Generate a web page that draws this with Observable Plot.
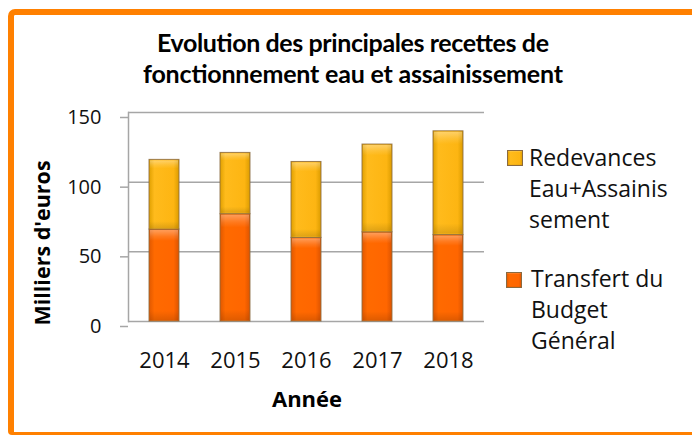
<!DOCTYPE html>
<html>
<head>
<meta charset="utf-8">
<script src="https://cdn.jsdelivr.net/npm/d3@7"></script>
<script src="https://cdn.jsdelivr.net/npm/@observablehq/plot@0.6"></script>
<style>
  html, body { margin: 0; padding: 0; background: #ffffff; overflow: hidden; }
  #wrap { position: relative; width: 692px; height: 436px; overflow: hidden; background: #ffffff; }
  #border { position: absolute; left: 8px; top: 9px; width: 684px; height: 426px; box-sizing: border-box;
            border-left: 6px solid #ff8000; border-top: 6px solid #ff8000; border-bottom: 3px solid #ff8000;
            border-right: none; border-radius: 7px 0 0 4px; background: #ffffff; }
  #chart { position: absolute; left: 0; top: 0; }
  #overlay { position: absolute; left: 0; top: 0; pointer-events: none; }
</style>
</head>
<body>
<svg width="0" height="0" style="position:absolute">
  <defs>
    <linearGradient id="gOrange" x1="0" x2="1" y1="0" y2="0">
      <stop offset="0" stop-color="#e05800"/>
      <stop offset="0.18" stop-color="#ff6a00"/>
      <stop offset="0.82" stop-color="#ff6600"/>
      <stop offset="1" stop-color="#dc5400"/>
    </linearGradient>
    <linearGradient id="gGold" x1="0" x2="1" y1="0" y2="0">
      <stop offset="0" stop-color="#e0a000"/>
      <stop offset="0.18" stop-color="#ffbb1c"/>
      <stop offset="0.82" stop-color="#fdb512"/>
      <stop offset="1" stop-color="#dc9c00"/>
    </linearGradient>
    <linearGradient id="gShade" x1="0" x2="0" y1="0" y2="1">
      <stop offset="0" stop-color="#ffffff" stop-opacity="0.35"/>
      <stop offset="0.07" stop-color="#ffffff" stop-opacity="0.12"/>
      <stop offset="0.12" stop-color="#ffffff" stop-opacity="0"/>
      <stop offset="0.9" stop-color="#000000" stop-opacity="0"/>
      <stop offset="1" stop-color="#000000" stop-opacity="0.12"/>
    </linearGradient>
  </defs>
</svg>
<div id="wrap">
  <div id="border"></div>
  <div id="chart"></div>
  <svg id="overlay" width="692" height="436"></svg>
</div>
<script>
// ---- data ----
const years = ["2014", "2015", "2016", "2017", "2018"];
const transfert = [66, 77, 60, 64, 62];          // Transfert du Budget Général
const redevances = [50, 44, 54.5, 63, 74.5];     // Redevances Eau+Assainissement
const seriesNames = ["Transfert du Budget Général", "Redevances Eau+Assainissement"];
const yTicks = [0, 50, 100, 150];
const titleLines = ["Evolution des principales recettes de", "fonctionnement eau et assainissement"];
const yLabel = "Milliers d'euros";
const xLabel = "Année";
const legendRedevances = ["Redevances", "Eau+Assainis", "sement"];
const legendTransfert = ["Transfert du", "Budget", "Général"];

const rows = years.flatMap((y, i) => [
  {year: y, series: seriesNames[0], value: transfert[i]},
  {year: y, series: seriesNames[1], value: redevances[i]}
]);

const chart = Plot.plot({
  width: 692,
  height: 436,
  marginLeft: 128,
  marginRight: 208,
  marginTop: 112,
  marginBottom: 115,
  style: {background: "transparent", fontFamily: "'Open Sans', sans-serif", color: "#111"},
  x: {domain: years, paddingInner: 0.58, paddingOuter: 0.29, label: null},
  y: {domain: [0, 150], label: null},
  color: {domain: seriesNames, range: ["url(#gOrange)", "url(#gGold)"]},
  marks: [
    Plot.gridY(yTicks, {stroke: "#a6a6a6", strokeOpacity: 1, strokeWidth: 1.5}),
    Plot.frame({anchor: "left", stroke: "#a6a6a6", strokeWidth: 1.5}),
    Plot.axisY(yTicks, {tickSize: 8, tickPadding: 19, fontSize: 20, stroke: "#a6a6a6", strokeWidth: 1.5, dy: 5, label: null}),
    Plot.axisX({tickSize: 0, tickPadding: 31, fontSize: 22, label: null}),
    Plot.barY(rows, Plot.stackY({x: "year", y: "value", fill: "series", stroke: "#8a6a40", strokeWidth: 1, strokeOpacity: 0.85})),
    Plot.barY(rows, Plot.stackY({x: "year", y: "value", z: "series", fill: "url(#gShade)", inset: 1}))
  ]
});
document.getElementById("chart").appendChild(chart);

// ---- titles, axis labels, legend ----
const ns = "http://www.w3.org/2000/svg";
const ov = document.getElementById("overlay");
function txt(s, x, y, attrs) {
  const t = document.createElementNS(ns, "text");
  t.textContent = s;
  t.setAttribute("x", x);
  t.setAttribute("y", y);
  for (const k in attrs) t.setAttribute(k, attrs[k]);
  ov.appendChild(t);
  return t;
}
function rect(x, y, w, h, fill) {
  const r = document.createElementNS(ns, "rect");
  r.setAttribute("x", x); r.setAttribute("y", y);
  r.setAttribute("width", w); r.setAttribute("height", h);
  r.setAttribute("fill", fill);
  r.setAttribute("stroke", "#8a6a40");
  r.setAttribute("stroke-width", 1);
  ov.appendChild(r);
}
const titleStyle = {"font-family": "Lato, 'Open Sans', sans-serif", "font-weight": "bold", "font-size": 25,
  "text-anchor": "middle", fill: "#000", "lengthAdjust": "spacing"};
txt(titleLines[0], 353, 52, Object.assign({textLength: 392}, titleStyle));
txt(titleLines[1], 353, 83, Object.assign({textLength: 420}, titleStyle));

txt(yLabel, 0, 0, {"font-family": "'Open Sans', sans-serif", "font-weight": "bold", "font-size": 21.5,
  "text-anchor": "middle", fill: "#000", transform: "translate(50,243) rotate(-90)"});
txt(xLabel, 307, 407, {"font-family": "'Open Sans', sans-serif", "font-weight": "bold", "font-size": 22,
  "text-anchor": "middle", fill: "#000"});

const legStyle = {"font-family": "'Open Sans', sans-serif", "font-size": 23, fill: "#111"};
rect(507.5, 150.5, 15, 15, "url(#gGold)");
rect(507.5, 150.5, 15, 15, "url(#gShade)");
legendRedevances.forEach((s, i) => txt(s, 529, 166 + i * 31, legStyle));
rect(506.5, 272.5, 15, 15, "url(#gOrange)");
rect(506.5, 272.5, 15, 15, "url(#gShade)");
legendTransfert.forEach((s, i) => txt(s, 531, 287 + i * 31, legStyle));
</script>
</body>
</html>
